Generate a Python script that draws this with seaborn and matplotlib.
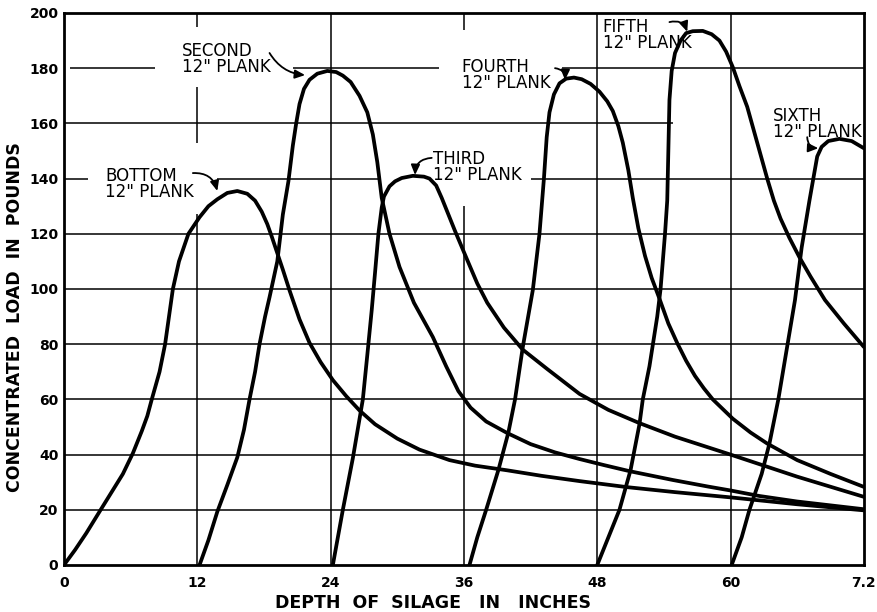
import matplotlib
matplotlib.use("Agg")
import matplotlib.pyplot as plt
import pandas as pd
import seaborn as sns

# ---------------- data ----------------
plank_names = ["BOTTOM", "SECOND", "THIRD", "FOURTH", "FIFTH", "SIXTH"]

bottom_depth = [0, 1.0, 2.0, 3.3, 4.3, 5.3, 6.2, 7.0, 7.5, 7.9, 8.6, 9.1, 9.45, 9.8, 10.35,
                11.2, 12.2, 13.0, 13.8, 14.7, 15.6, 16.5, 17.2, 17.8, 18.3, 18.7, 19.2,
                19.7, 20.3, 21.2, 22.1, 23.1, 24.2, 25.4, 26.6, 28.0, 30.0, 32.0, 34.7,
                37.0, 39.9, 43.0, 46.4, 50.7, 55.0, 60.0, 66.0, 72.0]
bottom_load = [0, 5.5, 11.5, 20, 26.5, 33, 40.5, 48.5, 54, 60, 70, 80, 90, 100, 110,
               120, 126, 130, 132.5, 134.8, 135.5, 134.5, 132, 128, 123.5, 119, 113,
               107, 99.5, 89, 80.5, 73.5, 67, 61.2, 56, 51, 45.8, 41.8, 38,
               36, 34.3, 32.3, 30.4, 28.2, 26.4, 24.5, 22, 19.8]

second_depth = [12.2, 13.0, 13.8, 14.7, 15.6, 16.2, 16.7, 17.2, 17.6, 18.1, 18.5, 19.2,
                19.7, 20.2, 20.6, 20.9, 21.2, 21.6, 22.1, 22.8, 23.7, 24.5, 25.1, 25.8,
                26.6, 27.3, 27.8, 28.2, 28.6, 29.3, 30.2, 31.5, 33.2, 34.4, 35.5, 36.6,
                38.0, 39.9, 42.0, 44.2, 46.4, 48.6, 50.9, 54.8, 58.0, 60.0, 62.6, 66.0, 72.0]
second_load = [0, 9, 19.3, 29, 39, 49, 60, 70, 80, 90, 97, 110,
               127, 139, 152, 160, 167, 172.5, 175.8, 178, 179, 178.6, 177.3, 175,
               170, 164, 156, 146, 133, 120, 108, 95, 82.6, 72, 63, 57,
               52, 47.8, 43.8, 40.8, 38.4, 36.2, 34, 30.8, 28.4, 27, 25, 23, 20.2]

third_depth = [24.2, 25.1, 26.0, 26.9, 27.3, 27.7, 28.0, 28.3, 28.6, 28.8, 29.3, 29.8,
               30.4, 31.4, 32.4, 32.9, 33.5, 34.0, 34.6, 35.2, 36.3, 37.2, 38.1, 39.6,
               41.3, 43.5, 46.4, 49.0, 51.8, 55.0, 60.0, 66.0, 72.0]
third_load = [0, 20, 38.7, 60, 76, 92.4, 106, 120, 129.5, 133.5, 137.2, 139,
              140.2, 141, 140.7, 140, 137.5, 133, 127, 121, 110.5, 102, 95, 86,
              78, 71, 62, 56.2, 51.4, 46.5, 40, 32, 24.7]

fourth_depth = [36.5, 37.2, 38.0, 39.1, 40.0, 40.6, 41.3, 42.2, 42.8, 43.2, 43.45, 43.7,
                44.1, 44.6, 45.2, 45.9, 46.6, 47.4, 48.2, 48.9, 49.4, 49.9, 50.3, 50.8,
                51.2, 51.7, 52.3, 52.9, 53.6, 54.4, 55.2, 56.0, 56.8, 57.6, 58.4, 60.2,
                61.8, 63.3, 66.0, 69.0, 72.0]
fourth_load = [0, 10, 20, 34.4, 48, 60, 79, 99.6, 120, 140, 155, 164,
               170.5, 174.5, 176.2, 176.6, 176, 174.3, 171.5, 168, 164.5, 159, 153, 143,
               133, 122, 112, 104, 96.5, 87.5, 80.4, 74, 68.5, 64, 60, 53,
               48, 44, 38, 33, 28.3]

fifth_depth = [48.0, 49.0, 50.0, 51.0, 51.8, 52.1, 52.7, 53.4, 53.7, 54.1, 54.3, 54.4,
               54.5, 54.7, 55.0, 55.5, 56.0, 56.6, 57.5, 58.3, 59.0, 59.6, 60.2, 60.8,
               61.5, 62.4, 63.3, 63.9, 64.5, 65.3, 66.2, 67.2, 68.5, 70.2, 72.0]
fifth_load = [0, 10, 20, 34.4, 51, 60, 72, 90, 100, 120, 132, 150,
              168.5, 179, 185.5, 190, 192.7, 193.4, 193.5, 192.3, 190, 186, 180.4, 173.5,
              166, 153, 140, 132, 125.5, 118.5, 111.5, 104.5, 96, 87.5, 79]

sixth_depth = [60.1, 61.0, 61.7, 62.8, 63.5, 64.3, 65.3, 65.8, 66.4, 67.1, 67.8, 68.2,
               68.8, 69.8, 70.9, 72.0]
sixth_load = [0, 10, 20, 33, 44, 60, 84, 96, 115, 132, 148, 151.5,
              153.6, 154.4, 153.6, 151]

x_ticks = [0, 12, 24, 36, 48, 60, 72]
x_tick_labels = ["0", "12", "24", "36", "48", "60", "7.2"]
y_ticks = [0, 20, 40, 60, 80, 100, 120, 140, 160, 180, 200]

label_texts = ['BOTTOM\n12" PLANK', 'SECOND\n12" PLANK', 'THIRD\n12" PLANK',
               'FOURTH\n12" PLANK', 'FIFTH\n12" PLANK', 'SIXTH\n12" PLANK']

# ---------------- build long table ----------------
series = [(bottom_depth, bottom_load), (second_depth, second_load),
          (third_depth, third_load), (fourth_depth, fourth_load),
          (fifth_depth, fifth_load), (sixth_depth, sixth_load)]
frames = []
for name, (xs, ys) in zip(plank_names, series):
    frames.append(pd.DataFrame({"depth": xs, "load": ys, "plank": name}))
df = pd.concat(frames, ignore_index=True)

# ---------------- style ----------------
sns.set_theme(style="white")
plt.rcParams["font.family"] = ["DejaVu Sans"]
plt.rcParams.update({
    "axes.edgecolor": "black", "text.color": "black", "axes.labelcolor": "black",
    "xtick.color": "black", "ytick.color": "black",
})

fig = plt.figure(figsize=(8.78, 6.12), dpi=100)
ax = fig.add_axes([0.0729, 0.0768, 0.911, 0.902])

# hand-drawn style grid with interruptions near labels
h_segments = {20: [(0, 72)], 40: [(0, 72)], 60: [(0, 72)], 80: [(0, 72)],
              100: [(0, 72)], 120: [(0, 72)],
              140: [(0, 2.2), (13.8, 28.4), (42, 72)],
              160: [(0, 54.8)],
              180: [(0.5, 8.2), (20.6, 33.8), (44.8, 72)]}
v_segments = {12: [(195, 200), (153, 173), (0, 127)], 24: [(0, 200)],
              36: [(194, 200), (0, 130)], 48: [(0, 200)], 60: [(0, 200)]}
for yv, segs in h_segments.items():
    for a, b in segs:
        ax.hlines(yv, a, b, color="black", lw=1.1, zorder=1)
for xv, segs in v_segments.items():
    for a, b in segs:
        ax.vlines(xv, a, b, color="black", lw=1.1, zorder=1)

sns.lineplot(data=df, x="depth", y="load", units="plank", estimator=None,
             sort=False, color="black", lw=2.7, ax=ax, legend=False,
             solid_joinstyle="round", solid_capstyle="round", zorder=3)

ax.set_xlim(0, 72)
ax.set_ylim(0, 200)
ax.set_xticks(x_ticks)
ax.set_xticklabels(x_tick_labels)
ax.set_yticks(y_ticks)
ax.tick_params(length=0, labelsize=10)
ax.tick_params(axis="x", pad=8)
ax.tick_params(axis="y", pad=4)
for t in ax.get_xticklabels() + ax.get_yticklabels():
    t.set_fontweight("bold")
for s in ax.spines.values():
    s.set_visible(True)
    s.set_linewidth(2.0)
    s.set_color("black")

ax.set_xlabel("DEPTH  OF  SILAGE   IN   INCHES", fontsize=12.5, fontweight="bold")
ax.xaxis.label.set_verticalalignment("center")
ax.xaxis.set_label_coords(0.461, -0.069)
ax.set_ylabel("CONCENTRATED  LOAD  IN  POUNDS", fontsize=12.5, fontweight="bold")
ax.yaxis.label.set_verticalalignment("center")
ax.yaxis.set_label_coords(-0.061, 0.45)

# annotations: (text position, arrow start, arrow end, curvature)
label_pos = [(3.7, 144.2), (10.6, 189.5), (33.2, 150.4), (35.8, 183.7), (48.5, 198.2), (63.8, 166.0)]
arrow_start = [(11.6, 142), (18.5, 185.5), (33.1, 147.5), (44.2, 180), (54.5, 196.7), (66.9, 155)]
arrow_end = [(13.8, 135.5), (21.7, 177.5), (31.6, 141.3), (45.1, 175.7), (56.1, 193.2), (67.9, 151)]
arrow_rad = [-0.4, 0.25, 0.45, -0.45, -0.45, 0.45]
for txt, pos, st, en, rad in zip(label_texts, label_pos, arrow_start, arrow_end, arrow_rad):
    ax.text(pos[0], pos[1], txt, ha="left", va="top", fontsize=12,
            linespacing=0.85, zorder=4)
    ax.annotate("", xy=en, xytext=st,
                arrowprops=dict(arrowstyle="-|>,head_length=0.5,head_width=0.22",
                                connectionstyle=f"arc3,rad={rad}",
                                color="black", lw=1.3, shrinkA=0, shrinkB=0),
                zorder=4)

fig.savefig("out.png", dpi=100, facecolor="white")
